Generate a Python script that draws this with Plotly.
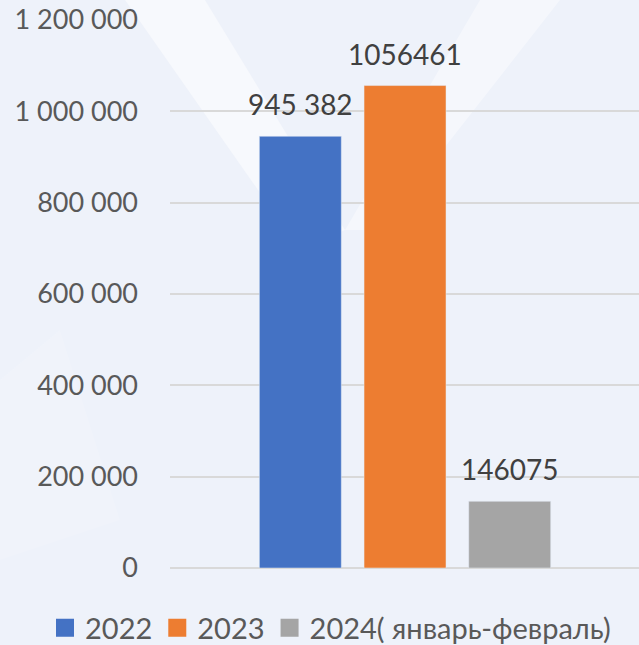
import plotly.graph_objects as go

series_names = ["2022", "2023", "2024( январь-февраль)"]
series_values = [945382, 1056461, 146075]
series_labels = ["945 382", "1056461", "146075"]
series_colors = ["#4472C4", "#ED7D31", "#A5A5A5"]
tick_vals = [0, 200000, 400000, 600000, 800000, 1000000, 1200000]

FONT = "Lato"
TXT = "#595959"

fig = go.Figure()
for name, val, col in zip(series_names, series_values, series_colors):
    fig.add_trace(go.Bar(
        x=[name], y=[val], name=name, marker_color=col,
        showlegend=False, hoverinfo="skip",
    ))
# legend entries with larger square swatches
for name, col in zip(series_names, series_colors):
    fig.add_trace(go.Scatter(
        x=[None], y=[None], mode="markers", name=name,
        marker=dict(symbol="square", size=16, color=col, line=dict(width=2, color=col)),
        showlegend=True,
    ))

# label each bar by its category index on the category axis
annotations = [
    dict(x=i, y=val, xref="x", yref="y", text=lab, showarrow=False,
         yanchor="bottom", yshift=13,
         font=dict(family=FONT, size=28, color="#404040"))
    for i, (val, lab) in enumerate(zip(series_values, series_labels))
]

def px(x):
    return (x - 170) / 469
def py(y):
    return (568 - y) / 548

shapes = [
    dict(type="path", xref="paper", yref="paper", layer="below",
         path=f"M {px(125)} {py(0)} L {px(205)} {py(0)} L {px(345)} {py(230)} L {px(300)} {py(250)} Z",
         fillcolor="rgba(255,255,255,0.5)", line=dict(width=0)),
    dict(type="path", xref="paper", yref="paper", layer="below",
         path=f"M {px(480)} {py(0)} L {px(560)} {py(0)} L {px(380)} {py(230)} L {px(345)} {py(230)} Z",
         fillcolor="rgba(255,255,255,0.4)", line=dict(width=0)),
    dict(type="path", xref="paper", yref="paper", layer="below",
         path=f"M {px(0)} {py(380)} L {px(60)} {py(330)} L {px(120)} {py(520)} L {px(0)} {py(560)} Z",
         fillcolor="rgba(255,255,255,0.12)", line=dict(width=0)),
]

fig.update_layout(
    width=639, height=645,
    margin=dict(l=170, r=0, t=20, b=77, autoexpand=False),
    paper_bgcolor="#EEF2FA", plot_bgcolor="rgba(0,0,0,0)",
    separators=". ",
    barmode="overlay", bargap=0.217,
    font=dict(family=FONT, size=27, color=TXT),
    showlegend=True,
    legend=dict(orientation="h", x=(45 - 170) / 469, xanchor="left",
                y=-(628 - 568) / 548, yanchor="middle",
                font=dict(family=FONT, size=29, color=TXT), itemwidth=30,
                bgcolor="rgba(0,0,0,0)", borderwidth=0),
    shapes=shapes,
    annotations=annotations,
)
fig.update_xaxes(type="category", range=[-1.245, 3.235], showticklabels=False,
                 showgrid=False, zeroline=False, showline=False, fixedrange=True)
fig.update_yaxes(range=[0, 1200000], tickvals=tick_vals, tickformat=",d",
                 showgrid=True, gridcolor="#D9D9D9", gridwidth=1.5,
                 zeroline=True, zerolinecolor="#D9D9D9", zerolinewidth=1.5,
                 showline=False, ticks="", ticklabelstandoff=31,
                 tickfont=dict(family=FONT, size=27, color=TXT), fixedrange=True)

fig.write_html("out.html", config={"displayModeBar": False},
               post_script="document.body.style.margin='0';")
